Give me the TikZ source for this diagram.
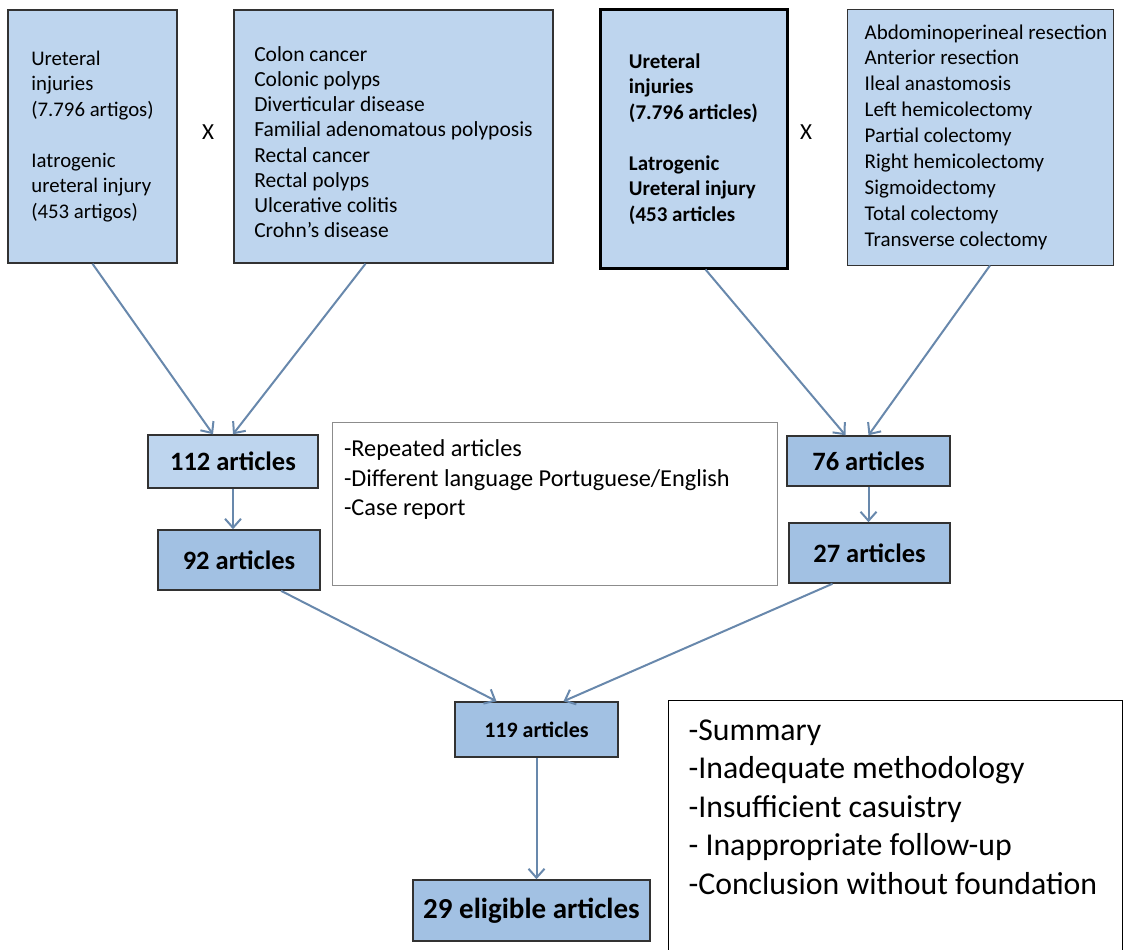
\documentclass[tikz,border=0pt]{standalone}
\usepackage{fontspec}
\setmainfont{Carlito}
\usetikzlibrary{arrows.meta}
\definecolor{paleblue}{RGB}{190,213,238}
\definecolor{midblue}{RGB}{162,193,227}
\definecolor{linkblue}{RGB}{104,136,172}
\definecolor{edgegray}{RGB}{50,50,50}

\begin{document}
\begin{tikzpicture}[x=1pt,y=1pt,yscale=-1,xscale=1,
    topicbox/.style={draw=edgegray, line width=1.5, fill=paleblue, align=left, inner sep=0, font=\fontsize{20.8}{25.5}\selectfont},
    countbox/.style={draw=edgegray, line width=1.5, fill=midblue, inner sep=0, font=\bfseries\fontsize{26.5}{30}\selectfont},
    dropbox/.style={draw, inner sep=0},
    link/.style={draw=linkblue, line width=2, -{Straight Barb[length=9pt,width=16pt]}}]
    \useasboundingbox (0,0) rectangle (1125,950);

    % Text Node
    \node [topicbox, minimum width=169, minimum height=253] (ureteral) at (92.5,136.5) {Ureteral\\injuries\\(7.796 artigos)\\[25.5pt]Iatrogenic\\ureteral injury\\(453 artigos)};
    % Text Node
    \node [font=\fontsize{23}{26}\selectfont] (crossL) at (208,132) {X};
    % Text Node
    \node [topicbox, font=\fontsize{21.5}{25.2}\selectfont, minimum width=319, minimum height=253] (colon) at (393.5,136.5) {\raisebox{-8pt}[\height][\depth]{\begin{tabular}{@{}l@{}}Colon cancer\\Colonic polyps\\Diverticular disease\\Familial adenomatous polyposis\\Rectal cancer\\Rectal polyps\\Ulcerative colitis\\Crohn’s disease\end{tabular}}};
    % Text Node
    \node [topicbox, draw=black, line width=3, font=\bfseries\fontsize{21}{25.5}\selectfont, minimum width=187, minimum height=258] (iatro) at (693.5,139) {Ureteral\\injuries\\(7.796 articles)\\[25.5pt]Latrogenic\\Ureteral injury\\(453 articles};
    % Text Node
    \node [font=\fontsize{23}{26}\selectfont] (crossR) at (806,132) {X};
    % Text Node
    \node [topicbox, line width=1, font=\fontsize{21}{25.9}\selectfont, minimum width=266, minimum height=255] (surgery) at (980,137.5) {\begin{tabular}{@{\hspace{12pt}}l@{}}Abdominoperineal resection\\Anterior resection\\Ileal anastomosis\\Left hemicolectomy\\Partial colectomy\\Right hemicolectomy\\Sigmoidectomy\\Total colectomy\\Transverse colectomy\end{tabular}};

    % Text Node
    \node [countbox, fill=paleblue, minimum width=170, minimum height=53] (n112) at (233,461.5) {112 articles};
    % Text Node
    \node [countbox, minimum width=162, minimum height=60] (n92) at (239,560) {92 articles};
    % Text Node
    \node [dropbox, draw={rgb,255:red,140;green,140;blue,140}, line width=1, inner xsep=12, inner ysep=18] (drop1) at (554.5,503.5) {\parbox[c][127pt][t]{421pt}{\fontsize{24.3}{29.5}\selectfont -Repeated articles\\-Different language Portuguese/English\\-Case report}};
    % Text Node
    \node [countbox, minimum width=163, minimum height=50] (n76) at (868.5,461) {76 articles};
    % Text Node
    \node [countbox, minimum width=161, minimum height=60] (n27) at (869.5,553) {27 articles};
    % Text Node
    \node [countbox, font=\bfseries\fontsize{22}{25}\selectfont, minimum width=163, minimum height=55] (n119) at (536.5,729.5) {119 articles};
    % Text Node
    \node [countbox, font=\bfseries\fontsize{29}{32}\selectfont, minimum width=237, minimum height=61] (n29) at (531.5,910.5) {29 eligible articles};
    % Text Node
    \node [dropbox, line width=1.2, inner xsep=20, inner ysep=19, anchor=north west] (drop2) at (668,700) {\parbox[c][232pt][t]{414pt}{\fontsize{31.8}{38.5}\selectfont -Summary\\-Inadequate methodology\\-Insufficient casuistry\\- Inappropriate follow-up\\-Conclusion without foundation}};

    %Straight Lines
    \draw [link] (ureteral.south) -- ([xshift=-20]n112.north);
    \draw [link] ([xshift=-28]colon.south) -- (n112.north);
    \draw [link] (n112.south) -- (n112.south |- n92.north);
    %Straight Lines
    \draw [link] ([xshift=12]iatro.south) -- ([xshift=-23]n76.north);
    \draw [link] ([xshift=10]surgery.south) -- (n76.north);
    \draw [link] (n76.south) -- (n76.south |- n27.north);
    %Straight Lines
    \draw [link] ([xshift=42]n92.south) -- ([xshift=-40]n119.north);
    \draw [link] ([xshift=-37]n27.south) -- ([xshift=27]n119.north);
    \draw [link] (n119.south) -- (n119.south |- n29.north);
\end{tikzpicture}
\end{document}
